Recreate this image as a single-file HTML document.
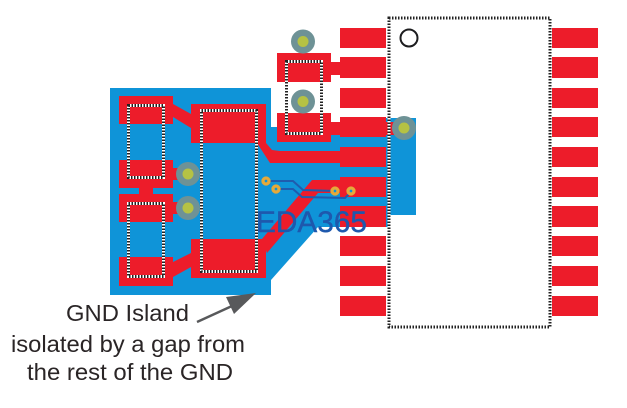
<!DOCTYPE html>
<html>
<head>
<meta charset="utf-8">
<style>
html,body{margin:0;padding:0;background:#fff;width:627px;height:408px;overflow:hidden}
svg{display:block}
.w{fill:none;stroke:#fff;stroke-width:3}
.k{fill:none;stroke:#222;stroke-width:3;stroke-dasharray:1.5 1.5}
.t{font-family:"Liberation Sans",sans-serif;font-size:23px;fill:#2a2526}
</style>
</head>
<body>
<svg width="627" height="408" viewBox="0 0 627 408" xmlns="http://www.w3.org/2000/svg">
<rect width="627" height="408" fill="#fff"/>
<polygon fill="#0f94d8" points="110,88 271,88 271,127 340,127 340,118 416,118 416,215 388,215 388,227 318,227 271,280 271,295 110,295"/>
<g fill="#ed1c2a">
<rect x="340" y="28" width="46" height="20"/><rect x="340" y="57" width="46" height="21"/><rect x="340" y="88" width="46" height="20"/><rect x="340" y="117" width="46" height="20"/><rect x="340" y="147" width="46" height="20"/><rect x="340" y="177" width="46" height="20"/><rect x="340" y="206" width="46" height="21"/><rect x="340" y="236" width="46" height="20"/><rect x="340" y="266" width="46" height="20"/><rect x="340" y="296" width="46" height="20"/>
<rect x="552" y="28" width="46" height="20"/><rect x="552" y="57" width="46" height="21"/><rect x="552" y="88" width="46" height="20"/><rect x="552" y="117" width="46" height="20"/><rect x="552" y="147" width="46" height="20"/><rect x="552" y="177" width="46" height="20"/><rect x="552" y="206" width="46" height="21"/><rect x="552" y="236" width="46" height="20"/><rect x="552" y="266" width="46" height="20"/><rect x="552" y="296" width="46" height="20"/>
<rect x="119" y="96" width="54" height="28"/><rect x="119" y="160" width="54" height="28"/><rect x="139" y="188" width="14" height="6"/><rect x="119" y="194" width="54" height="28"/><rect x="119" y="257" width="54" height="29"/>
<rect x="173" y="168" width="6" height="12"/><rect x="173" y="202" width="6" height="12"/>
<rect x="191" y="104" width="75" height="39"/><rect x="191" y="239" width="75" height="39"/>
<polygon points="173,104 191,114 191,128 173,117"/>
<polygon points="173,262 191,253 191,267 173,277"/>
<polygon points="257,143 266,143 272,150 280,151 340,151 340,163 270,163"/>
<polygon points="312,180 340,180 340,193 318,193 267,253 262,239 267,233"/>
<rect x="277" y="53" width="54" height="29"/><rect x="331" y="62" width="9" height="13"/>
<rect x="277" y="113" width="54" height="29"/><rect x="331" y="122" width="9" height="13"/>
<rect x="386" y="122" width="8" height="13"/>
</g>
<g>
<rect class="w" x="128.500" y="105.500" width="35" height="72"/><rect class="k" x="128.500" y="105.500" width="35" height="72"/>
<rect class="w" x="128.500" y="203.500" width="35" height="73"/><rect class="k" x="128.500" y="203.500" width="35" height="73"/>
<rect class="w" x="201.500" y="110.500" width="55" height="161"/><rect class="k" x="201.500" y="110.500" width="55" height="161"/>
<rect class="w" x="286.500" y="61.500" width="35" height="72"/><rect class="k" x="286.500" y="61.500" width="35" height="72"/>
<rect class="w" x="389" y="18" width="161" height="309"/><rect class="k" x="389" y="18" width="161" height="309"/>
</g>
<circle cx="409" cy="38" r="8.500" fill="none" stroke="#1d1d1f" stroke-width="2"/>
<g fill="#6e9296">
<circle cx="303" cy="41.500" r="12"/><circle cx="303" cy="101.500" r="12"/><circle cx="404" cy="128" r="12"/><circle cx="188" cy="174" r="12"/><circle cx="188" cy="208" r="12"/>
</g>
<g fill="#b5c244">
<circle cx="303" cy="41.500" r="5.500"/><circle cx="303" cy="101.500" r="5.500"/><circle cx="404" cy="128" r="5.500"/><circle cx="188" cy="174" r="5.500"/><circle cx="188" cy="208" r="5.500"/>
</g>
<g fill="none" stroke="#1f5cae" stroke-width="2">
<polyline points="266,181 293,181 303,190 335,191"/>
<polyline points="276,189 293,189 302,197 345,198 351,192"/>
</g>
<g fill="#0f94d8" stroke="#e5a93a" stroke-width="3.300">
<circle cx="266" cy="181" r="3"/><circle cx="276" cy="189" r="3"/><circle cx="335" cy="191" r="3"/><circle cx="351" cy="191" r="3"/>
</g>
<text x="256" y="232" font-family="'Liberation Sans',sans-serif" font-size="30" fill="#1e58ad" stroke="#1e58ad" stroke-width="0.400" textLength="111" lengthAdjust="spacingAndGlyphs">EDA365</text>
<line x1="197" y1="322" x2="232" y2="306" stroke="#58595b" stroke-width="2.500"/>
<polygon fill="#58595b" points="256,293 226,297 234,314"/>
<text class="t" x="66" y="321" textLength="123" lengthAdjust="spacingAndGlyphs">GND Island</text>
<text class="t" x="11" y="352" textLength="234" lengthAdjust="spacingAndGlyphs">isolated by a gap from</text>
<text class="t" x="27" y="380" textLength="206" lengthAdjust="spacingAndGlyphs">the rest of the GND</text>
</svg>
</body>
</html>
